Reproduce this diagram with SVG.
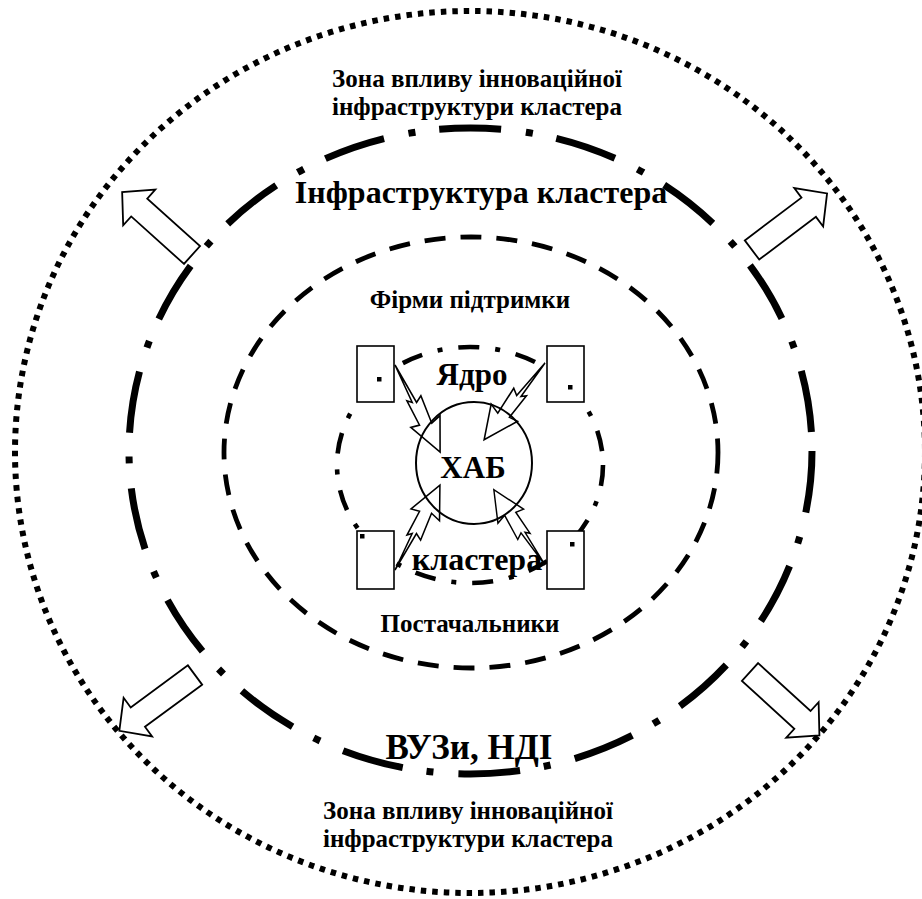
<svg xmlns="http://www.w3.org/2000/svg" width="922" height="899" viewBox="0 0 922 899">
<style>
  .ring { fill: none; stroke: #000; }
  .box { fill: #fff; stroke: #000; stroke-width: 1.6; }
  .dot { fill: #000; }
  .bolt { fill: none; stroke: #000; stroke-width: 1.6; stroke-linejoin: miter; }
  .blk { fill: #fff; stroke: #000; stroke-width: 1.8; stroke-linejoin: miter; }
</style>
<defs>
  <polygon id="boltShape" points="0,0 44,-2 40,-9 70,-6 67,-17 100,0 64,15 66,6 38,6 42,2"/>
  <polygon id="blockArrow" points="0,-12 71,-12 71,-24 94,0 71,24 71,12 0,12"/>
</defs>
<rect width="922" height="899" fill="#fff"/>

<g id="zone-influence">
  <ellipse class="ring" cx="470" cy="452" rx="455" ry="441" stroke-width="6" stroke-dasharray="5.5 6"/>
  <text x="477" y="87" font-size="25" font-weight="bold" text-anchor="middle" font-family="Liberation Serif">Зона впливу інноваційної</text>
  <text x="477" y="115" font-size="25" font-weight="bold" text-anchor="middle" font-family="Liberation Serif">інфраструктури кластера</text>
  <text x="468" y="819" font-size="25" font-weight="bold" text-anchor="middle" font-family="Liberation Serif">Зона впливу інноваційної</text>
  <text x="468" y="847" font-size="25" font-weight="bold" text-anchor="middle" font-family="Liberation Serif">інфраструктури кластера</text>
</g>

<g id="infrastructure">
  <ellipse class="ring" cx="470.5" cy="451" rx="341.5" ry="323" stroke-width="7" stroke-dasharray="62 25 7 24"/>
  <text x="481" y="203" font-size="32" font-weight="bold" text-anchor="middle" font-family="Liberation Serif">Інфраструктура кластера</text>
  <text x="469" y="759" font-size="35" font-weight="bold" text-anchor="middle" font-family="Liberation Serif">ВУЗи, НДІ</text>
</g>

<g id="support-firms">
  <ellipse class="ring" cx="471" cy="452.5" rx="247" ry="215.5" stroke-width="4.8" stroke-dasharray="21 15"/>
  <text x="470" y="308" font-size="25" font-weight="bold" text-anchor="middle" font-family="Liberation Serif">Фірми підтримки</text>
  <text x="470" y="632" font-size="25" font-weight="bold" text-anchor="middle" font-family="Liberation Serif">Постачальники</text>
</g>

<g id="core">
  <ellipse class="ring" cx="470" cy="465" rx="133" ry="118" stroke-width="4.6" stroke-dasharray="21 16 5 16"/>
  <text x="472" y="385" font-size="31" font-weight="bold" text-anchor="middle" font-family="Liberation Serif">Ядро</text>
  <text x="477" y="570" font-size="32" font-weight="bold" text-anchor="middle" font-family="Liberation Serif">кластера</text>
</g>

<g id="hub">
  <ellipse cx="474" cy="463" rx="58" ry="61" fill="none" stroke="#000" stroke-width="2"/>
  <text x="473" y="478" font-size="31" font-weight="bold" text-anchor="middle" font-family="Liberation Serif">ХАБ</text>
</g>

<g id="firm-top-left">
  <rect class="box" x="357" y="346" width="37" height="56"/>
  <rect class="dot" x="377" y="377" width="4.5" height="4.5"/>
</g>
<g id="firm-top-right">
  <rect class="box" x="547" y="346" width="37" height="56"/>
  <rect class="dot" x="568" y="385" width="4.5" height="4.5"/>
</g>
<g id="firm-bottom-left">
  <rect class="box" x="357" y="531" width="37" height="58"/>
  <rect class="dot" x="360" y="534" width="4.5" height="4.5"/>
</g>
<g id="firm-bottom-right">
  <rect class="box" x="547" y="531" width="37" height="58"/>
  <rect class="dot" x="570" y="542" width="4.5" height="4.5"/>
</g>

<g id="connectors">
  <use href="#boltShape" class="bolt" transform="translate(395,365) rotate(62.6) scale(0.98)"/>
  <use href="#boltShape" class="bolt" transform="translate(545,363) rotate(128.4) scale(0.98,-0.98)"/>
  <use href="#boltShape" class="bolt" transform="translate(395,570) rotate(-62.1) scale(0.96,-0.96)"/>
  <use href="#boltShape" class="bolt" transform="translate(545,565) rotate(-124.2) scale(0.91)"/>
  <use href="#blockArrow" class="blk" transform="translate(192,255) rotate(-138)"/>
  <use href="#blockArrow" class="blk" transform="translate(752,250) rotate(-37)"/>
  <use href="#blockArrow" class="blk" transform="translate(195,675) rotate(143.6)"/>
  <use href="#blockArrow" class="blk" transform="translate(750,672) rotate(42.4)"/>
</g>
</svg>
